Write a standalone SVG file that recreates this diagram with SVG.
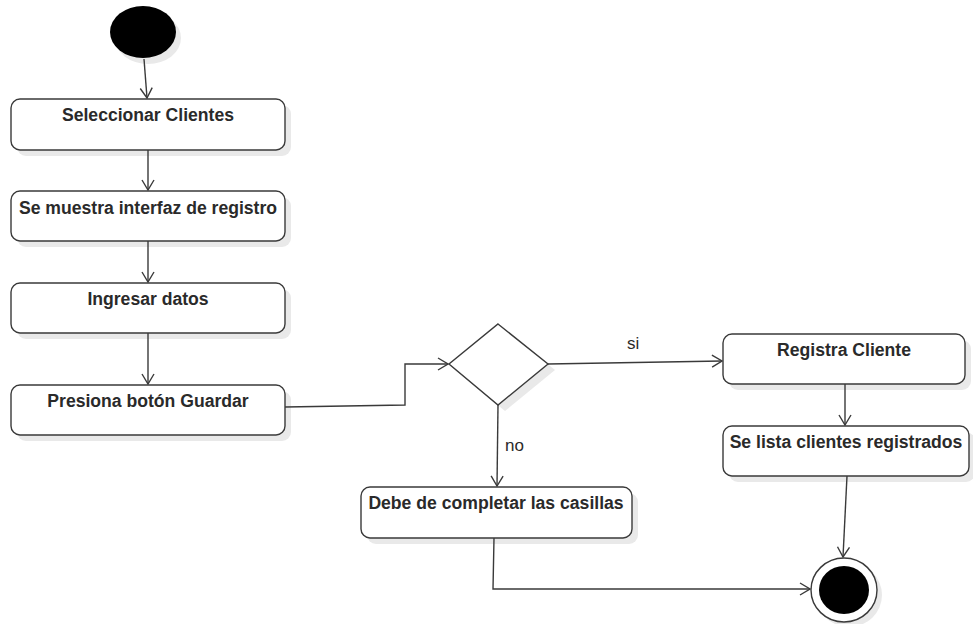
<svg xmlns="http://www.w3.org/2000/svg" width="973" height="624" viewBox="0 0 973 624">
  <defs>
    <style>
      .box { fill: #ffffff; stroke: #3a3a3a; stroke-width: 1.4; }
      .shadow { fill: #e9e9e9; }
      .lbl { font-family: "Liberation Sans", Arial, sans-serif; font-size: 17.6px; font-weight: bold; fill: #2a2a2a; text-anchor: middle; }
      .guard { font-family: "Liberation Sans", Arial, sans-serif; font-size: 17px; fill: #2a2a2a; }
      .edge { fill: none; stroke: #3a3a3a; stroke-width: 1.4; }
    </style>
    <marker id="open" viewBox="0 0 12 14" refX="11" refY="7" markerWidth="12" markerHeight="14" markerUnits="userSpaceOnUse" orient="auto">
      <path d="M1,1 L11,7 L1,13" fill="none" stroke="#3a3a3a" stroke-width="1.4"/>
    </marker>
  </defs>
  <rect width="973" height="624" fill="#ffffff"/>

  <!-- initial node -->
  <g id="start">
    <ellipse cx="148" cy="38" rx="33" ry="26" class="shadow"/>
    <ellipse cx="143" cy="32" rx="33" ry="26" fill="#000000"/>
  </g>

  <g id="seleccionar">
    <rect x="17" y="105" width="274" height="51" rx="9" class="shadow"/>
    <rect x="11" y="99" width="274" height="51" rx="9" class="box"/>
    <text x="148" y="121" class="lbl">Seleccionar Clientes</text>
  </g>

  <g id="interfaz">
    <rect x="17" y="197" width="274" height="50" rx="9" class="shadow"/>
    <rect x="11" y="191" width="274" height="50" rx="9" class="box"/>
    <text x="148" y="214" class="lbl">Se muestra interfaz de registro</text>
  </g>

  <g id="ingresar">
    <rect x="17" y="289" width="274" height="50" rx="9" class="shadow"/>
    <rect x="11" y="283" width="274" height="50" rx="9" class="box"/>
    <text x="148" y="305" class="lbl">Ingresar datos</text>
  </g>

  <g id="guardar">
    <rect x="17" y="391" width="274" height="50" rx="9" class="shadow"/>
    <rect x="11" y="385" width="274" height="50" rx="9" class="box"/>
    <text x="148" y="407" class="lbl">Presiona botón Guardar</text>
  </g>

  <g id="decision">
    <polygon points="505,330 555,370 505,411 455,370" class="shadow"/>
    <polygon points="498,324 548,364 498,405 449,364" class="box"/>
  </g>

  <g id="registra">
    <rect x="729" y="340" width="242" height="50" rx="9" class="shadow"/>
    <rect x="723" y="334" width="242" height="50" rx="9" class="box"/>
    <text x="844" y="356" class="lbl">Registra Cliente</text>
  </g>

  <g id="lista">
    <rect x="729" y="432" width="246" height="50" rx="9" class="shadow"/>
    <rect x="723" y="426" width="246" height="50" rx="9" class="box"/>
    <text x="846" y="448" class="lbl">Se lista clientes registrados</text>
  </g>

  <g id="completar">
    <rect x="367" y="493" width="271" height="51" rx="9" class="shadow"/>
    <rect x="361" y="487" width="271" height="51" rx="9" class="box"/>
    <text x="496" y="509" class="lbl">Debe de completar las casillas</text>
  </g>

  <!-- final node -->
  <g id="end">
    <ellipse cx="849" cy="595" rx="33" ry="32" class="shadow"/>
    <ellipse cx="844" cy="590" rx="33" ry="32" fill="#ffffff" stroke="#3a3a3a" stroke-width="1.4"/>
    <ellipse cx="844" cy="590" rx="25" ry="24" fill="#000000"/>
  </g>

  <g id="connectors">
    <path d="M144,59 L147,98" class="edge" marker-end="url(#open)"/>
    <path d="M148,150 L148,190" class="edge" marker-end="url(#open)"/>
    <path d="M148,241 L148,282" class="edge" marker-end="url(#open)"/>
    <path d="M148,333 L148,384" class="edge" marker-end="url(#open)"/>
    <path d="M285,407 L405,405 L405,364 L448,364" class="edge" marker-end="url(#open)"/>
    <path d="M548,364 L722,361" class="edge" marker-end="url(#open)"/>
    <path d="M845,384 L845,425" class="edge" marker-end="url(#open)"/>
    <path d="M847,476 L843,557" class="edge" marker-end="url(#open)"/>
    <path d="M498,405 L497,486" class="edge" marker-end="url(#open)"/>
    <path d="M494,538 L493,589 L810,589" class="edge" marker-end="url(#open)"/>
    <text x="627" y="349" class="guard">si</text>
    <text x="505" y="451" class="guard">no</text>
  </g>
</svg>
